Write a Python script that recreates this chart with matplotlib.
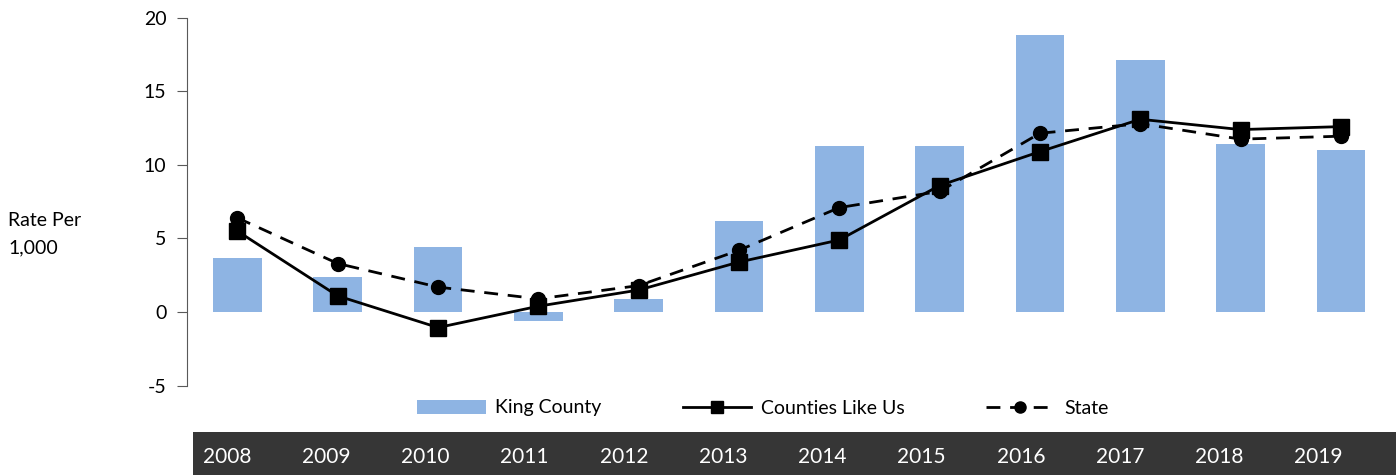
import matplotlib
matplotlib.use("Agg")
import matplotlib.pyplot as plt
from matplotlib.lines import Line2D
from matplotlib.patches import Patch

years = ["2008", "2009", "2010", "2011", "2012", "2013",
         "2014", "2015", "2016", "2017", "2018", "2019"]
king_county = [3.7, 2.4, 4.4, -0.6, 0.9, 6.2, 11.3, 11.3, 18.8, 17.1, 11.4, 11.0]
counties_like_us = [5.5, 1.1, -1.05, 0.4, 1.5, 3.4, 4.9, 8.6, 10.9, 13.1, 12.4, 12.6]
state = [6.4, 3.3, 1.7, 0.9, 1.8, 4.2, 7.1, 8.2, 12.15, 12.8, 11.75, 11.95]

BAR_COLOR = "#8eb4e3"
BAND_COLOR = "#363636"
AXIS_GRAY = "#595959"
DASH = (0, (5, 3.5))

plt.rcParams["font.family"] = ["Lato", "DejaVu Sans"]
plt.rcParams["axes.unicode_minus"] = False

W, H = 1396, 475
fig = plt.figure(figsize=(W / 100, H / 100), dpi=100)

# main chart area
ax = fig.add_axes([187.3 / W, 1 - 385.7 / H, (1391 - 187.3) / W, (385.7 - 17.7) / H])
x = list(range(len(years)))
ax.bar(x, king_county, width=0.485, color=BAR_COLOR, zorder=1)
ax.plot(x, counties_like_us, color="black", lw=2, marker="s", ms=11, zorder=3)
ax.plot(x, state, color="black", lw=2, ls=DASH, marker="o", ms=10, zorder=2)

ax.set_xlim(-0.5, 11.5)
ax.set_ylim(-5, 20)
ax.set_yticks([-5, 0, 5, 10, 15, 20])
ax.set_xticks([])
for s in ["top", "right", "bottom"]:
    ax.spines[s].set_visible(False)
ax.spines["left"].set_color(AXIS_GRAY)
ax.tick_params(axis="y", length=7, color=AXIS_GRAY, labelsize=14, pad=8)

fig.text(8 / W, 1 - 234 / H, "Rate Per\n1,000", fontsize=14, ha="left", va="center",
         linespacing=1.7)

# legend
handles = [
    Patch(facecolor=BAR_COLOR, edgecolor="none"),
    Line2D([], [], color="black", lw=2, marker="s", ms=9),
    Line2D([], [], color="black", lw=2, ls=DASH, marker="o", ms=8),
]
fig.legend(handles, ["King County", "Counties Like Us", "State"], ncol=3,
           loc="center", bbox_to_anchor=(763 / W, 1 - 408 / H), frameon=False,
           fontsize=14, handlelength=3.5, columnspacing=4.2, handletextpad=0.5)

# dark year band
band = fig.add_axes([193 / W, 0, (W - 193) / W, 43 / H])
band.set_facecolor(BAND_COLOR)
band.set_xlim(-0.34, 11.78)
band.set_ylim(0, 1)
band.set_xticks([])
band.set_yticks([])
for s in band.spines.values():
    s.set_visible(False)
for i, yr in enumerate(years):
    band.text(i, 0.42, yr, color="white", fontsize=15, ha="center", va="center")

fig.savefig("out.png", dpi=100)
